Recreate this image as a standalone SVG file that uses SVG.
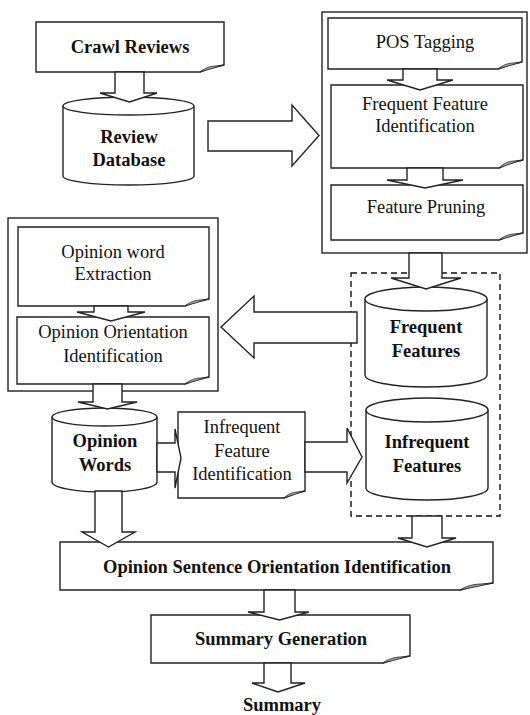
<svg xmlns="http://www.w3.org/2000/svg" width="530" height="715" viewBox="0 0 530 715">
<style>
.box{fill:#fff;stroke:#222;stroke-width:1.4}
.frame{fill:none;stroke:#222;stroke-width:1.4}
.dash{fill:none;stroke:#111;stroke-width:1.4;stroke-dasharray:6,4}
.fold{fill:#aaa;stroke:#222;stroke-width:0.8}
.arr{fill:#fff;stroke:#222;stroke-width:1.4;stroke-linejoin:miter}
.b{font-weight:bold}
</style>
<rect width="530" height="715" fill="#fff"/>
<g id="containers">
<rect class="frame" x="322" y="12" width="205" height="241"/>
<rect class="frame" x="8" y="218" width="210" height="173"/>
<rect class="dash" x="351" y="273" width="149" height="243"/>
</g>
<g font-family="Liberation Serif, DejaVu Serif, serif" font-size="18.5" fill="#111" text-anchor="middle">
<g id="crawl-reviews">
<path class="box" d="M36,22 H224 V65 C218,66 210,68 200,72 H36 Z"/>
<path class="fold" d="M200,72 C205,68 210,66 216,66 L224,65 C217,67 210,69 200,72 Z"/>
<text class="b" x="130" y="53">Crawl Reviews</text>
</g>
<g id="review-database">
<path class="box" d="M63,106 V176 A65.5,9 0 0 0 194,176 V106"/>
<ellipse class="box" cx="128.5" cy="106" rx="65.5" ry="9"/>
<text class="b" x="129" y="143">Review</text>
<text class="b" x="129" y="166">Database</text>
</g>
<g id="pos-tagging">
<path class="box" d="M328,18 H522 V62 C516,63 508,65 498,69 H328 Z"/>
<path class="fold" d="M498,69 C503,65 508,63 514,63 L522,62 C515,64 508,66 498,69 Z"/>
<text x="425" y="48">POS Tagging</text>
</g>
<g id="frequent-feature-identification">
<path class="box" d="M331,85 H523 V160 C517,161 509,163 499,168 H331 Z"/>
<path class="fold" d="M499,168 C504,163 509,161 515,161 L523,160 C516,162 509,164 499,168 Z"/>
<text x="425" y="110">Frequent Feature</text>
<text x="425" y="132">Identification</text>
</g>
<g id="feature-pruning">
<path class="box" d="M331,185 H523 V233 C517,234 509,236 499,240 H331 Z"/>
<path class="fold" d="M499,240 C504,236 509,234 515,234 L523,233 C516,235 509,237 499,240 Z"/>
<text x="426" y="213">Feature Pruning</text>
</g>
<g id="frequent-features">
<path class="box" d="M365,299 V375 A61,12 0 0 0 487,375 V299"/>
<ellipse class="box" cx="426" cy="299" rx="61" ry="12"/>
<text class="b" x="426" y="333">Frequent</text>
<text class="b" x="426" y="357">Features</text>
</g>
<g id="infrequent-features">
<path class="box" d="M366,410 V488 A61,12 0 0 0 488,488 V410"/>
<ellipse class="box" cx="427" cy="410" rx="61" ry="12"/>
<text class="b" x="427" y="448">Infrequent</text>
<text class="b" x="427" y="472">Features</text>
</g>
<g id="opinion-word-extraction">
<path class="box" d="M18,227 H209 V299 C203,300 195,302 185,306 H18 Z"/>
<path class="fold" d="M185,306 C190,302 195,300 201,300 L209,299 C202,301 195,303 185,306 Z"/>
<text x="113" y="258">Opinion word</text>
<text x="113" y="280">Extraction</text>
</g>
<g id="opinion-orientation-identification">
<path class="box" d="M17,317 H209 V377 C203,378 195,380 185,384 H17 Z"/>
<path class="fold" d="M185,384 C190,380 195,378 201,378 L209,377 C202,379 195,381 185,384 Z"/>
<text x="113" y="338">Opinion Orientation</text>
<text x="113" y="362">Identification</text>
</g>
<g id="opinion-words">
<path class="box" d="M52,417 V482 A52.5,10 0 0 0 157,482 V417"/>
<ellipse class="box" cx="104.5" cy="417" rx="52.5" ry="9"/>
<text class="b" x="105" y="447">Opinion</text>
<text class="b" x="105" y="471">Words</text>
</g>
<g id="infrequent-feature-identification">
<path class="box" d="M178,412 H305 V491 C299,492 292,494 284,498 H178 Z"/>
<path class="fold" d="M284,498 C288,494 293,492 298,492 L305,491 C299,493 292,495 284,498 Z"/>
<text x="242" y="433">Infrequent</text>
<text x="242" y="457">Feature</text>
<text x="242" y="480">Identification</text>
</g>
<g id="opinion-sentence-orientation-identification">
<path class="box" d="M60,542 H493 V583 C485,584 475,586 460,590 H60 Z"/>
<path class="fold" d="M460,590 C466,586 474,584 482,584 L493,583 C484,585 474,587 460,590 Z"/>
<text class="b" x="277" y="573">Opinion Sentence Orientation Identification</text>
</g>
<g id="summary-generation">
<path class="box" d="M151,615 H410 V656 C403,657 395,659 383,663 H151 Z"/>
<path class="fold" d="M383,663 C388,659 395,657 401,657 L410,656 C402,658 395,660 383,663 Z"/>
<text class="b" x="281" y="645">Summary Generation</text>
</g>
<g id="summary">
<text class="b" x="282" y="711">Summary</text>
</g>
</g>
<g id="connectors">
<path class="arr" d="M115,72 H144 V93 H157 L129.5,102 L100,93 H115 Z"/>
<path class="arr" d="M208,121 H292 V105 L319,135.5 L292,166 V151 H208 Z"/>
<path class="arr" d="M403,69 H437 V80 H453 L420,90 L387,80 H403 Z"/>
<path class="arr" d="M407,168 H443 V180 H463 L425,188 L387,180 H407 Z"/>
<path class="arr" d="M409,253 H442 V278 H461 L426,289 L391,278 H409 Z"/>
<path class="arr" d="M357,312 V343 H254 V358 L221,327 L254,296 V312 Z"/>
<path class="arr" d="M94,306 H128 V312 H145 L111,321 L77,312 H94 Z"/>
<path class="arr" d="M93,384 H122 V402 H137 L107.5,409 L78,402 H93 Z"/>
<path class="arr" d="M157,443 H175 V429 L181,458 L175,488 V472 H157 Z"/>
<path class="arr" d="M305,442 H347 V428 L362,457 L347,483 V472 H305 Z"/>
<path class="arr" d="M95,491 H122 V532 H135 L108.5,547 L82,532 H95 Z"/>
<path class="arr" d="M412,516 H442 V538 H456 L427,547 L398,538 H412 Z"/>
<path class="arr" d="M264,590 H295 V612 H309 L279.5,620 L248,612 H264 Z"/>
<path class="arr" d="M264,663 H291 V683 H305 L278,692 L252,683 H264 Z"/>
</g>
</svg>
